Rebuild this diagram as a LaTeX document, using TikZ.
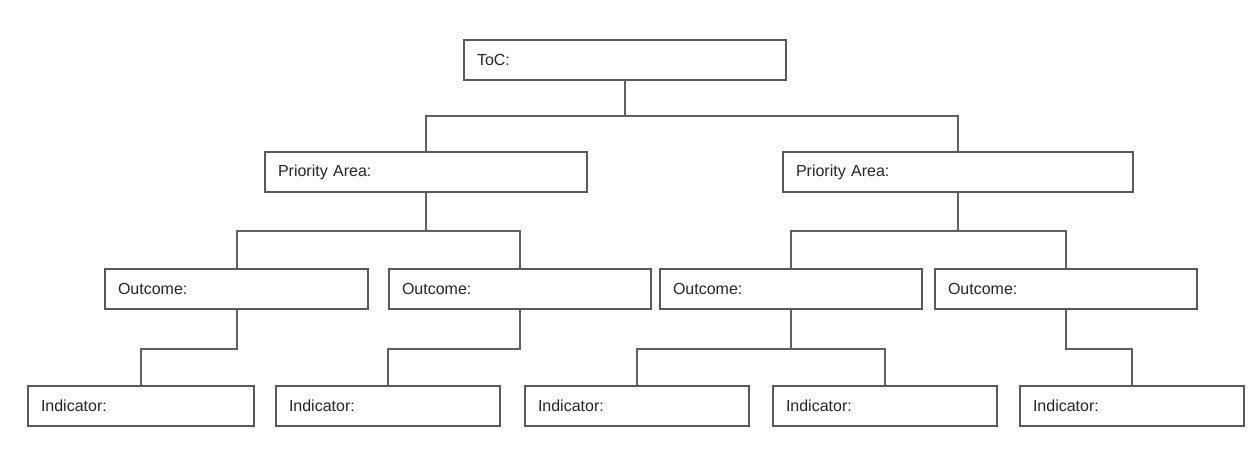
\documentclass[tikz,border=0pt]{standalone}
\usepackage{fontspec}
\setmainfont{Liberation Sans}
\begin{document}
\begin{tikzpicture}[x=1pt,y=-1pt,
  box/.style={draw=black!65, line width=2.2pt, fill=white, minimum height=40pt,
    inner xsep=13pt, align=left, font=\fontsize{16}{18}\selectfont, text=black!85},
  conn/.style={draw=black!62, line width=2pt}]
\useasboundingbox[fill=white] (0,0) rectangle (1248,450);
\node[box, minimum width=322pt, text width=296pt] (toc) at (625,60) {ToC:};
\node[box, minimum width=322pt, text width=296pt] (pa1) at (426,172) {Priority Area:};
\node[box, minimum width=350pt, text width=324pt] (pa2) at (958,172) {Priority Area:};
\node[box, minimum width=263pt, text width=237pt] (o1) at (236.5,289) {Outcome:};
\node[box, minimum width=262pt, text width=236pt] (o2) at (520,289) {Outcome:};
\node[box, minimum width=262pt, text width=236pt] (o3) at (791,289) {Outcome:};
\node[box, minimum width=262pt, text width=236pt] (o4) at (1066,289) {Outcome:};
\node[box, minimum width=226pt, text width=200pt] (i1) at (141,406) {Indicator:};
\node[box, minimum width=224pt, text width=198pt] (i2) at (388,406) {Indicator:};
\node[box, minimum width=224pt, text width=198pt] (i3) at (637,406) {Indicator:};
\node[box, minimum width=224pt, text width=198pt] (i4) at (885,406) {Indicator:};
\node[box, minimum width=224pt, text width=198pt] (i5) at (1132,406) {Indicator:};
\begin{scope}[on background layer/.style={}]
\draw[conn] (toc.south) -- ++(0,35) coordinate (j0) -| (pa1.north);
\draw[conn] (j0) -| (pa2.north);
\draw[conn] (pa1.south) -- ++(0,38) coordinate (j1) -| (o1.north);
\draw[conn] (j1) -| (o2.north);
\draw[conn] (pa2.south) -- ++(0,38) coordinate (j2) -| (o3.north);
\draw[conn] (j2) -| (o4.north);
\draw[conn] (o1.south) -- ++(0,39) -| (i1.north);
\draw[conn] (o2.south) -- ++(0,39) -| (i2.north);
\draw[conn] (o3.south) -- ++(0,39) coordinate (j3) -| (i3.north);
\draw[conn] (j3) -| (i4.north);
\draw[conn] (o4.south) -- ++(0,39) -| (i5.north);
\end{scope}
\end{tikzpicture}
\end{document}
